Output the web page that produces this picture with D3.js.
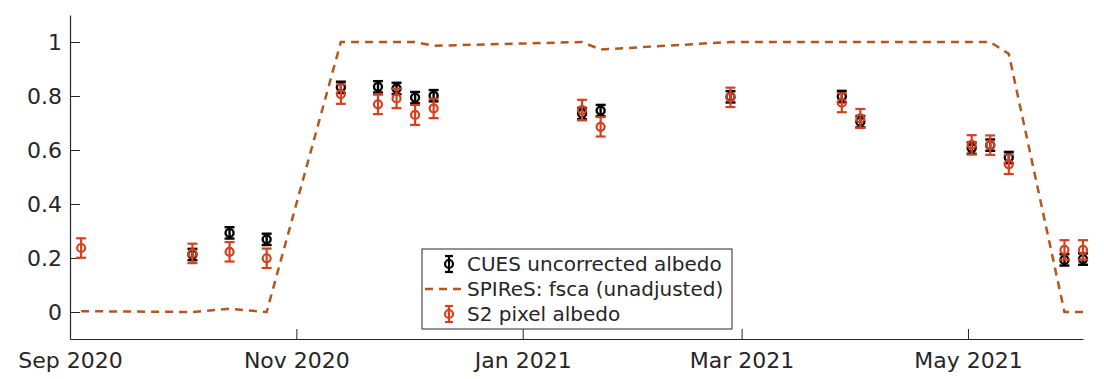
<!DOCTYPE html>
<html>
<head>
<meta charset="utf-8">
<script src="https://cdn.jsdelivr.net/npm/d3@7"></script>
<style>
  body { margin: 0; background: #fff; }
  text { font-family: "DejaVu Sans", sans-serif; fill: #262626; }
</style>
</head>
<body>
<div id="chart"></div>
<script>
// observation dates (Sentinel-2 overpasses)
var dates = ["2020-09-04", "2020-10-04", "2020-10-14", "2020-10-24", "2020-11-13",
    "2020-11-23", "2020-11-28", "2020-12-03", "2020-12-08", "2021-01-17",
    "2021-01-22", "2021-02-26", "2021-03-28", "2021-04-02", "2021-05-02",
    "2021-05-07", "2021-05-12", "2021-05-27", "2021-06-01"];

// CUES uncorrected albedo (null = no data)
var cuesAlbedo = [null, 0.213, 0.293, 0.269, 0.832, 0.834, 0.828, 0.794, 0.801, 0.735,
    0.746, 0.797, 0.798, 0.705, 0.607, 0.618, 0.572, 0.193, 0.196];
var cuesErr = [0, 0.021, 0.021, 0.021, 0.021, 0.021, 0.021, 0.021, 0.021, 0.021,
    0.021, 0.021, 0.021, 0.021, 0.021, 0.021, 0.021, 0.021, 0.021];

// SPIReS fsca (unadjusted)
var fsca = [0.003, 0.0, 0.012, 0.0, 1.0, 1.0, 1.0, 1.0, 0.986, 1.0,
    0.972, 1.0, 1.0, 1.0, 1.0, 1.0, 0.956, 0.0, 0.0];

// S2 pixel albedo
var s2Albedo = [0.237, 0.217, 0.223, 0.199, 0.807, 0.769, 0.791, 0.730, 0.754, 0.748,
    0.686, 0.795, 0.775, 0.717, 0.619, 0.618, 0.547, 0.230, 0.230];
var s2Err = [0.036, 0.036, 0.036, 0.036, 0.036, 0.036, 0.036, 0.037, 0.036, 0.038,
    0.036, 0.036, 0.035, 0.035, 0.036, 0.036, 0.036, 0.036, 0.036];

var yTicks = [0, 0.2, 0.4, 0.6, 0.8, 1];
var xTickDates = ["2020-09-01", "2020-11-01", "2021-01-01", "2021-03-01", "2021-05-01"];
var legendLabels = ["CUES uncorrected albedo", "SPIReS: fsca (unadjusted)", "S2 pixel albedo"];

var parseDate = d3.timeParse("%Y-%m-%d");

var svgWidth = 1104;
var svgHeight = 379;
var margin = { top: 15, right: 21, bottom: 40, left: 70 };
var width = svgWidth - margin.left - margin.right;
var height = svgHeight - margin.top - margin.bottom;

var axisColor = "#262626";
var cuesColor = "#000000";
var fscaColor = "#b5571c";
var s2Color = "#d6401e";

var svg = d3.select("#chart")
    .append("svg")
    .attr("width", svgWidth)
    .attr("height", svgHeight);

var chartGroup = svg.append("g")
    .attr("transform", `translate(${margin.left}, ${margin.top})`);

var rows = dates.map(function (d, i) {
    return {
        date: parseDate(d),
        cues: cuesAlbedo[i], cuesErr: cuesErr[i],
        fsca: fsca[i],
        s2: s2Albedo[i], s2Err: s2Err[i]
    };
});

var xScale = d3.scaleTime()
    .domain([parseDate("2020-09-01"), parseDate("2021-06-01")])
    .range([0, width]);

var yScale = d3.scaleLinear()
    .domain([-0.1, 1.1])
    .range([height, 0]);

// axes, ticks pointing inward
var bottomAxis = d3.axisBottom(xScale)
    .tickValues(xTickDates.map(parseDate))
    .tickFormat(d3.timeFormat("%b %Y"))
    .tickSizeInner(-10)
    .tickSizeOuter(0)
    .tickPadding(13);

var leftAxis = d3.axisLeft(yScale)
    .tickValues(yTicks)
    .tickFormat(d => d === 0 || d === 1 ? d3.format("d")(d) : d3.format(".1f")(d))
    .tickSizeInner(-10)
    .tickSizeOuter(0)
    .tickPadding(18);

var xAxis = chartGroup.append("g")
    .attr("transform", `translate(0, ${height})`)
    .call(bottomAxis);

var yAxis = chartGroup.append("g")
    .call(leftAxis);

[xAxis, yAxis].forEach(function (ax) {
    ax.select(".domain").attr("stroke", axisColor).attr("stroke-width", 1.2);
    ax.selectAll(".tick line").attr("stroke", axisColor).attr("stroke-width", 1);
    ax.selectAll(".tick text")
        .attr("font-size", "22px")
        .attr("font-family", "DejaVu Sans, sans-serif")
        .attr("fill", axisColor);
});
yAxis.selectAll(".tick text").attr("x", -8);

// errorbar helper
function drawErrorbars(group, data, key, errKey, color, width) {
    var pts = data.filter(d => d[key] !== null);
    var g = group.append("g")
        .attr("stroke", color)
        .attr("stroke-width", width)
        .attr("fill", "none");

    g.selectAll("line.bar")
        .data(pts)
        .enter()
        .append("line")
        .attr("x1", d => xScale(d.date))
        .attr("x2", d => xScale(d.date))
        .attr("y1", d => yScale(d[key] - d[errKey]))
        .attr("y2", d => yScale(d[key] + d[errKey]));

    g.selectAll("line.capTop")
        .data(pts)
        .enter()
        .append("line")
        .attr("x1", d => xScale(d.date) - 5)
        .attr("x2", d => xScale(d.date) + 5)
        .attr("y1", d => yScale(d[key] + d[errKey]))
        .attr("y2", d => yScale(d[key] + d[errKey]));

    g.selectAll("line.capBottom")
        .data(pts)
        .enter()
        .append("line")
        .attr("x1", d => xScale(d.date) - 5)
        .attr("x2", d => xScale(d.date) + 5)
        .attr("y1", d => yScale(d[key] - d[errKey]))
        .attr("y2", d => yScale(d[key] - d[errKey]));

    g.selectAll("circle")
        .data(pts)
        .enter()
        .append("circle")
        .attr("cx", d => xScale(d.date))
        .attr("cy", d => yScale(d[key]))
        .attr("r", 4);
}

drawErrorbars(chartGroup, rows, "cues", "cuesErr", cuesColor, 2.4);

// fsca dashed line
var line = d3.line()
    .x(d => xScale(d.date))
    .y(d => yScale(d.fsca));

chartGroup.append("path")
    .datum(rows)
    .attr("d", line)
    .attr("fill", "none")
    .attr("stroke", fscaColor)
    .attr("stroke-width", 2.5)
    .attr("stroke-dasharray", "8,6");

drawErrorbars(chartGroup, rows, "s2", "s2Err", s2Color, 2.2);

// legend
var legend = svg.append("g")
    .attr("transform", "translate(422, 249)");

legend.append("rect")
    .attr("width", 310)
    .attr("height", 80)
    .attr("fill", "#fff")
    .attr("stroke", axisColor)
    .attr("stroke-width", 1);

var rowY = [15, 40, 65];

function legendErrorbar(cy, color) {
    var g = legend.append("g")
        .attr("stroke", color)
        .attr("stroke-width", 2.2)
        .attr("fill", "none");
    g.append("line").attr("x1", 27).attr("x2", 27).attr("y1", cy - 8).attr("y2", cy + 8);
    g.append("line").attr("x1", 23).attr("x2", 31).attr("y1", cy - 8).attr("y2", cy - 8);
    g.append("line").attr("x1", 23).attr("x2", 31).attr("y1", cy + 8).attr("y2", cy + 8);
    g.append("circle").attr("cx", 27).attr("cy", cy).attr("r", 4);
}

legendErrorbar(rowY[0], cuesColor);
legend.append("line")
    .attr("x1", 3).attr("x2", 41)
    .attr("y1", rowY[1]).attr("y2", rowY[1])
    .attr("stroke", fscaColor)
    .attr("stroke-width", 2.5)
    .attr("stroke-dasharray", "8,6");
legendErrorbar(rowY[2], s2Color);

legend.selectAll("text.label")
    .data(legendLabels)
    .enter()
    .append("text")
    .attr("x", 45)
    .attr("y", (d, i) => rowY[i])
    .attr("dy", "0.36em")
    .attr("font-size", "20px")
    .text(d => d);
</script>
</body>
</html>
